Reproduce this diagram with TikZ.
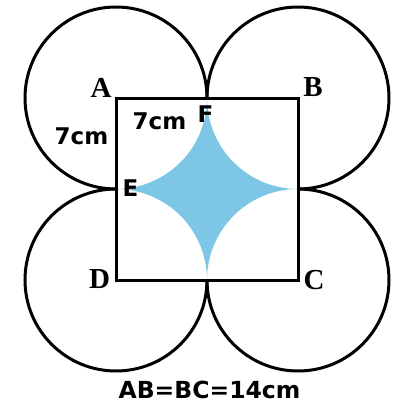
\documentclass[tikz,border=0pt]{standalone}
\usepackage{fontspec}
\usetikzlibrary{calc}
\newfontfamily\lblsans{DejaVu Sans}
\newfontfamily\lblserif{Liberation Serif}
\definecolor{starblue}{RGB}{126,198,230}
\definecolor{stargrey}{RGB}{158,158,158}
\begin{document}
\begin{tikzpicture}[x=1pt,y=-1pt,
  blackline/.style={line width=3pt,black},
  starline/.style={line width=2.6pt,stargrey,fill=starblue},
  vertexlbl/.style={inner sep=0pt,font=\lblserif\bfseries\fontsize{29}{32}\selectfont},
  sanslbl/.style={inner sep=0pt,font=\lblsans\bfseries\fontsize{23}{27}\selectfont},
  biglbl/.style={inner sep=0pt,font=\lblsans\bfseries\fontsize{23.5}{28}\selectfont}]
\useasboundingbox (0,0) rectangle (399,405);
\def\rad{91}
\coordinate (A) at (116,98);
\coordinate (B) at (298,98);
\coordinate (C) at (298,280);
\coordinate (D) at (116,280);
\coordinate (E) at (116,189);
\coordinate (F) at (207,98);
\coordinate (G) at (298,189);
\coordinate (H) at (207,280);
% star
\path[starline] (F) arc[start angle=0,end angle=90,radius=\rad]
  arc[start angle=270,end angle=360,radius=\rad]
  arc[start angle=180,end angle=270,radius=\rad]
  arc[start angle=90,end angle=180,radius=\rad] -- cycle;
% square
\draw[blackline] (A) -- (B) -- (C) -- (D) -- cycle;
% outer three-quarter circles
\draw[blackline] (E) arc[start angle=90,end angle=360,radius=\rad];
\draw[blackline] (F) arc[start angle=180,end angle=450,radius=\rad];
\draw[blackline] (G) arc[start angle=270,end angle=540,radius=\rad];
\draw[blackline] (H) arc[start angle=0,end angle=270,radius=\rad];
% labels
\node[vertexlbl] (lA) at (101,87.5) {A};
\node[vertexlbl] (lB) at (313,87) {B};
\node[vertexlbl] (lC) at (314,280) {C};
\node[vertexlbl] (lD) at (99.5,279.5) {D};
\node[sanslbl] (lE) at (130.5,188.5) {E};
\node[sanslbl] (lF) at (205.5,114.5) {F};
\node[sanslbl] (l7a) at (81.5,136.5) {7cm};
\node[sanslbl] (l7b) at (159.5,121) {7cm};
\node[biglbl] (lAB) at (209.5,390) {AB=BC=14cm};
\end{tikzpicture}
\end{document}
